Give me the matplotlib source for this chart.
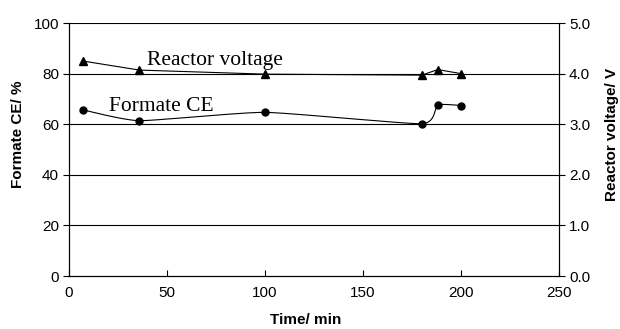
import matplotlib.pyplot as plt
import numpy as np
from matplotlib.ticker import FormatStrFormatter

# data
time_v = [7, 36, 100, 180, 188, 200]
voltage = [4.25, 4.07, 3.99, 3.97, 4.08, 4.0]
time_ce = [7, 36, 100, 180, 188, 200]
formate_ce = [65.7, 61.4, 64.7, 60.2, 67.6, 67.4]


def smooth(x, y, n=30):
    # catmull-rom style curve, like excel's smoothed line
    x = np.asarray(x, float)
    y = np.asarray(y, float)
    px = np.concatenate([[x[0]], x, [x[-1]]])
    py = np.concatenate([[y[0]], y, [y[-1]]])
    xs, ys = [], []
    t = np.linspace(0, 1, n)
    for i in range(1, len(px) - 2):
        p0, p1, p2, p3 = (np.array([px[j], py[j]]) for j in range(i - 1, i + 3))
        m1 = (p2 - p0) / 2 * 0.5
        m2 = (p3 - p1) / 2 * 0.5
        h00 = 2 * t**3 - 3 * t**2 + 1
        h10 = t**3 - 2 * t**2 + t
        h01 = -2 * t**3 + 3 * t**2
        h11 = t**3 - t**2
        seg = (np.outer(h00, p1) + np.outer(h10, m1) + np.outer(h01, p2) + np.outer(h11, m2))
        xs.extend(seg[:, 0])
        ys.extend(seg[:, 1])
    return xs, ys


plt.rcParams['font.family'] = 'Liberation Sans'
fig = plt.figure(figsize=(6.2, 3.29), dpi=100)
ax = fig.add_axes([0.111, 0.161, 0.791, 0.769])
ax2 = ax.twinx()

for yv in [20, 40, 60, 80, 100]:
    ax.axhline(yv, color='black', lw=0.8, zorder=1)

sx, sy = smooth(time_ce, formate_ce)
ax.plot(sx, sy, color='black', lw=0.8, zorder=3)
ax.plot(time_ce, formate_ce, 'o', color='black', ms=5, zorder=4)

ax2.plot(time_v, voltage, color='black', lw=0.8, zorder=3)
ax2.plot(time_v, voltage, '^', color='black', ms=5.5, zorder=4)

ax.set_xlim(0, 250)
ax.set_ylim(0, 100)
ax2.set_ylim(0, 5)
ax.set_xticks(range(0, 251, 50))
ax.set_yticks(range(0, 101, 20))
ax2.set_yticks(np.arange(0, 5.01, 1.0))
ax2.yaxis.set_major_formatter(FormatStrFormatter('%.1f'))

for a in (ax, ax2):
    a.spines['top'].set_visible(False)
    a.spines['left'].set_linewidth(0.8)
    a.spines['right'].set_linewidth(0.8)
    a.spines['bottom'].set_linewidth(0.8)
ax.tick_params(axis='x', direction='in', length=4, width=0.8, labelsize=11, pad=7)
ax.tick_params(axis='y', direction='out', length=4, width=0.8, labelsize=11, pad=3)
ax2.tick_params(axis='y', direction='out', length=4, width=0.8, labelsize=11, pad=3)

fig.text(306 / 620, 1 - 320 / 329, 'Time/ min', fontsize=11, fontweight='bold', ha='center', va='center')
fig.text(18.5 / 620, 1 - 134 / 329, 'Formate CE/ %', fontsize=11, fontweight='bold',
         rotation=90, ha='center', va='center')
fig.text(612 / 620, 1 - 134 / 329, 'Reactor voltage/ V', fontsize=11, fontweight='bold',
         rotation=90, ha='center', va='center')

ax.text(40, 83.4, 'Reactor voltage', family='Liberation Serif', fontsize=15.5, va='baseline')
ax.text(20.4, 65.2, 'Formate CE', family='Liberation Serif', fontsize=15.5, va='baseline')

fig.savefig('out.png', dpi=100)
